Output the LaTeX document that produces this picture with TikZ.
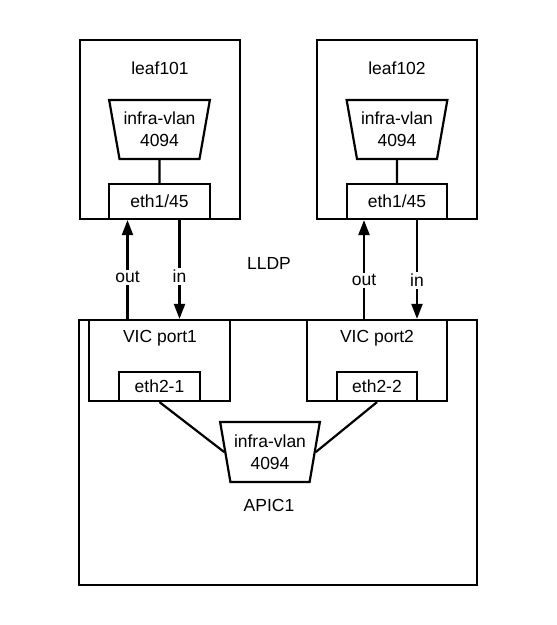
\documentclass[tikz,border=0pt]{standalone}
\usepackage{fontspec}
\setmainfont{Liberation Sans}
\usetikzlibrary{shapes.geometric,arrows.meta,positioning}
\tikzset{
box/.style={draw, line width=2.2pt, inner sep=0pt},
vlan/.style={draw, line width=2.2pt, trapezium, shape border rotate=180,
  trapezium angle=75, trapezium stretches=true,
  minimum width=101pt, minimum height=59pt, inner sep=0pt, align=center},
flow/.style={line width=2.2pt, -{Triangle[length=15pt,width=11pt]}},
tag/.style={fill=white, inner sep=2pt},
}
\begin{document}
\begin{tikzpicture}[x=1pt,y=-1pt,font=\fontsize{17.5}{22}\selectfont]
\useasboundingbox (0,0) rectangle (557,625);
% the leaf switches
\node[box, minimum width=160pt, minimum height=179pt] (leafA) at (160,129.5) {};
\node (leafAname) at (160,68) {leaf101};
\node[vlan] (vlanA) at (159.5,129.5) {infra-vlan\\4094};
\node[box, minimum width=101pt, minimum height=35pt] (ethA) at (159.5,201.5) {eth1/45};
\draw[line width=2.2pt] (vlanA.south) -- (ethA.north);

\node[box, minimum width=160pt, minimum height=179pt] (leafB) at (397,129.5) {};
\node (leafBname) at (397,68) {leaf102};
\node[vlan] (vlanB) at (397,129.5) {infra-vlan\\4094};
\node[box, minimum width=100pt, minimum height=35pt] (ethB) at (397,201.5) {eth1/45};
\draw[line width=2.2pt] (vlanB.south) -- (ethB.north);

% the APIC
\node[box, minimum width=398pt, minimum height=265pt] (apic) at (278,452.5) {};
\node (apicname) at (269,505) {APIC1};
\node[box, minimum width=141pt, minimum height=81pt] (vicA) at (159.5,360.5) {};
\node (vicAname) at (160,338) {VIC port1};
\node[box, minimum width=81pt, minimum height=29pt] (ethC) at (159.5,386.5) {eth2-1};
\node[box, minimum width=140pt, minimum height=81pt] (vicB) at (377,360.5) {};
\node (vicBname) at (377,338) {VIC port2};
\node[box, minimum width=80pt, minimum height=29pt] (ethD) at (377,386.5) {eth2-2};
\node[vlan, minimum width=100pt, minimum height=60pt] (vlanC) at (270,452) {infra-vlan\\4094};
\draw[line width=2.2pt] (ethC.south) -- (vlanC.west);
\draw[line width=2.2pt] (ethD.south) -- (vlanC.east);

% the links
\node (lldp) at (269,263) {LLDP};
\draw[flow] ([xshift=-32pt]ethA.south |- apic.north) -- ([xshift=-32pt]ethA.south)
  node[tag, pos=0.42] {out};
\draw[flow] ([xshift=20pt]ethA.south) -- ([xshift=20pt]ethA.south |- apic.north)
  node[tag, pos=0.57] {in};
\draw[flow] ([xshift=-33pt]ethB.south |- apic.north) -- ([xshift=-33pt]ethB.south)
  node[tag, pos=0.39] {out};
\draw[flow] ([xshift=20pt]ethB.south) -- ([xshift=20pt]ethB.south |- apic.north)
  node[tag, pos=0.61] {in};
\end{tikzpicture}
\end{document}
